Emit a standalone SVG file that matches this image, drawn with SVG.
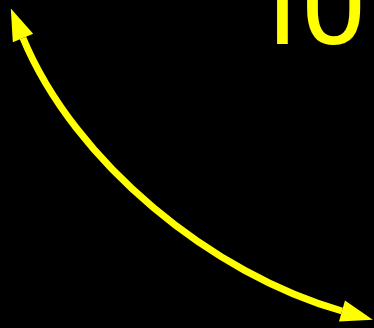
<svg xmlns="http://www.w3.org/2000/svg" width="374" height="328" viewBox="0 0 374 328">
<style>
.conn{fill:none;stroke:#ffff00;stroke-width:7}
.lbl{fill:#ffff00;font-family:Roboto,"Liberation Sans",Arial,sans-serif;font-size:118px}
</style>
<defs>
<marker id="ah" markerUnits="userSpaceOnUse" markerWidth="34" markerHeight="24" refX="0" refY="11" orient="auto-start-reverse" overflow="visible">
<path d="M0,0 L32,11 L0,22 z" fill="#ffff00"/>
</marker>
</defs>
<rect width="374" height="328" fill="#000"/>
<g id="label-10">
<text class="lbl" x="245.7 300.5" y="44">10</text>
</g>
<g id="connectors">
<path class="conn" d="M23,38 C74.3,162.2 212.4,274.55 342,311" marker-start="url(#ah)" marker-end="url(#ah)"/>
</g>
</svg>
